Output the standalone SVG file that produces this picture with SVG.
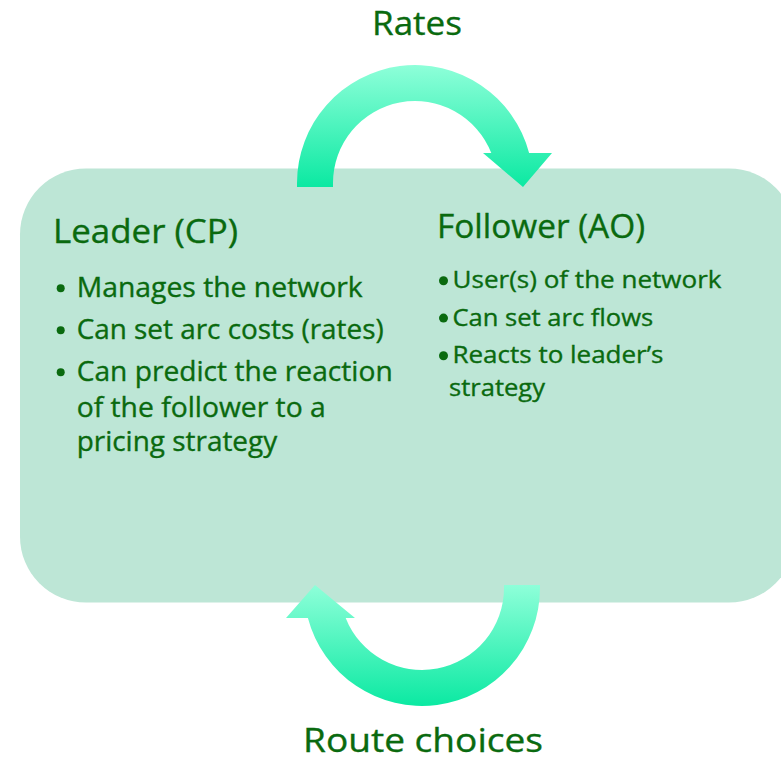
<svg xmlns="http://www.w3.org/2000/svg" width="781" height="762" viewBox="0 0 781 762">
  <defs>
    <linearGradient id="arrowGrad" x1="0" y1="0" x2="0" y2="1">
      <stop offset="0" stop-color="#8effd9"/>
      <stop offset="1" stop-color="#0be9a2"/>
    </linearGradient>
    <style>
      .t { font-family: "Open Sans", "Liberation Sans", sans-serif; fill: #0a6a0f; stroke: #0a6a0f; stroke-width: 0.35px; }
      .title { font-size: 32px; }
      .lb { font-size: 27px; }
      .rb { font-size: 23.5px; }
      .lbl { font-size: 33px; }
      .dot { fill: #0a6a0f; }
      .arrow { fill: url(#arrowGrad); }
    </style>
  </defs>
  <rect width="781" height="762" fill="#ffffff"/>

  <g id="panel">
    <rect x="20" y="168.5" width="775" height="434" rx="66" ry="66" fill="#bde6d6"/>
  </g>

  <g id="leader">
    <text class="t title" x="53" y="243" textLength="185" lengthAdjust="spacingAndGlyphs">Leader (CP)</text>
    <circle class="dot" cx="60.7" cy="288.3" r="4"/>
    <text class="t lb" x="76.7" y="297" textLength="286" lengthAdjust="spacingAndGlyphs">Manages the network</text>
    <circle class="dot" cx="60.7" cy="330.3" r="4"/>
    <text class="t lb" x="76.7" y="339" textLength="307" lengthAdjust="spacingAndGlyphs">Can set arc costs (rates)</text>
    <circle class="dot" cx="60.7" cy="372.3" r="4"/>
    <text class="t lb" x="76.7" y="381" textLength="316" lengthAdjust="spacingAndGlyphs">Can predict the reaction</text>
    <text class="t lb" x="76.7" y="416.5" textLength="249" lengthAdjust="spacingAndGlyphs">of the follower to a</text>
    <text class="t lb" x="76.7" y="450.5" textLength="200.5" lengthAdjust="spacingAndGlyphs">pricing strategy</text>
  </g>

  <g id="follower">
    <text class="t title" x="437" y="238" textLength="208" lengthAdjust="spacingAndGlyphs">Follower (AO)</text>
    <circle class="dot" cx="443.5" cy="280.7" r="4.5"/>
    <text class="t rb" x="452.5" y="288.3" textLength="269" lengthAdjust="spacingAndGlyphs">User(s) of the network</text>
    <circle class="dot" cx="443.5" cy="318.1" r="4.5"/>
    <text class="t rb" x="452.5" y="325.7" textLength="200.7" lengthAdjust="spacingAndGlyphs">Can set arc flows</text>
    <circle class="dot" cx="443.5" cy="355.7" r="4.5"/>
    <text class="t rb" x="452.5" y="363.3" textLength="211" lengthAdjust="spacingAndGlyphs">Reacts to leader’s</text>
    <text class="t rb" x="449" y="396" textLength="96" lengthAdjust="spacingAndGlyphs">strategy</text>
  </g>

  <g id="connectors">
    <path id="rates-arrow" class="arrow" d="M 297 187 L 297 183 A 118 118 0 0 1 529.1 153 L 552 153 L 523 187 L 483 153 L 491.3 153 A 82 82 0 0 0 333 183 L 333 187 Z"/>
    <path id="route-arrow" class="arrow" d="M 540 585 L 540 588 A 118 118 0 0 1 307.9 618 L 286 618 L 315 585 L 355 618 L 345.7 618 A 82 82 0 0 0 504 588 L 504 585 Z"/>
    <text class="t lbl" x="372" y="35" textLength="90" lengthAdjust="spacingAndGlyphs">Rates</text>
    <text class="t lbl" x="303" y="752" textLength="240" lengthAdjust="spacingAndGlyphs">Route choices</text>
  </g>
</svg>
